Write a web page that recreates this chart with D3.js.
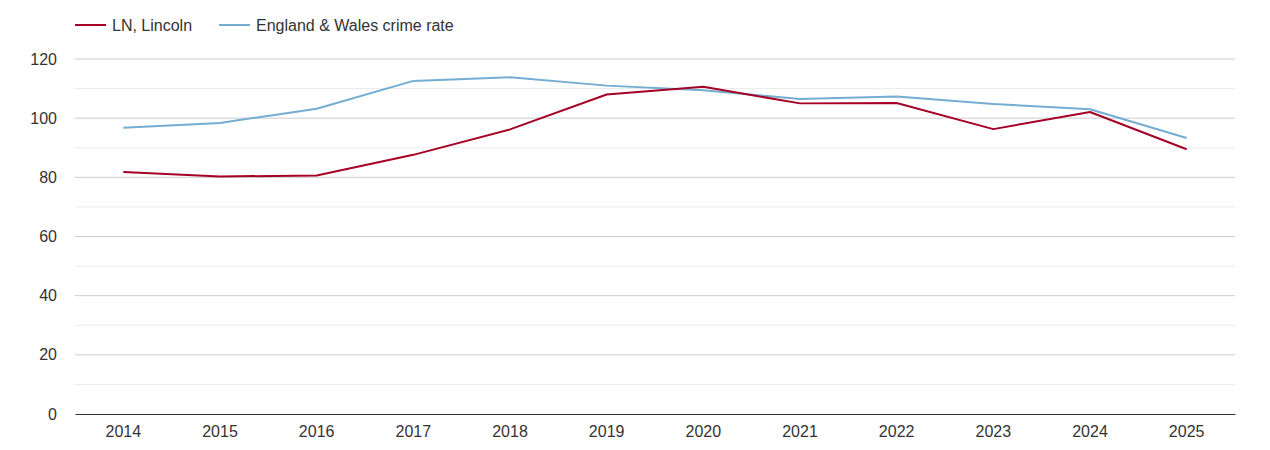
<!DOCTYPE html>
<html><head><meta charset="utf-8">
<script src="https://cdn.jsdelivr.net/npm/d3@7"></script>
<style>body{margin:0;background:#fff;}svg{display:block;font-family:"Liberation Sans",Arial,sans-serif;}</style>
</head><body><svg id="c" width="1270" height="450"></svg>
<script>
const years = ["2014","2015","2016","2017","2018","2019","2020","2021","2022","2023","2024","2025"];
const lincoln = [81.8,80.3,80.6,87.6,96.2,108.0,110.6,105.0,105.1,96.3,102.1,89.5];
const englandWales = [96.8,98.4,103.2,112.6,113.8,111.0,109.4,106.5,107.3,104.8,103.0,93.3];
const yTicks = [0,20,40,60,80,100,120];
const yMinor = [10,30,50,70,90,110];
const seriesNames = ["LN, Lincoln","England & Wales crime rate"];
const colors = ["#a50026","#74add1"];

const FONT = "'Liberation Sans',Arial,sans-serif";
const svg = d3.select("#c");
const m = {l:75, r:35, t:59, b:36};
const W = 1270, H = 450;
const x = d3.scaleBand().domain(years).range([m.l, W-m.r]);
const y = d3.scaleLinear().domain([0,120]).range([H-m.b, m.t]);

svg.append("g").selectAll("line").data(yMinor).join("line")
  .attr("x1",m.l).attr("x2",W-m.r).attr("y1",d=>y(d)).attr("y2",d=>y(d))
  .attr("stroke","#ebebeb").attr("stroke-width",1);
svg.append("g").selectAll("line").data(yTicks.filter(d=>d>0)).join("line")
  .attr("x1",m.l).attr("x2",W-m.r).attr("y1",d=>y(d)).attr("y2",d=>y(d))
  .attr("stroke","#cccccc").attr("stroke-width",1);

const ya = svg.append("g").attr("transform",`translate(${m.l},0)`)
  .call(d3.axisLeft(y).tickValues(yTicks).tickSize(0).tickPadding(18));
ya.select(".domain").remove();
ya.selectAll("text").attr("font-size",16).attr("fill","#333").attr("font-family",FONT);

const xa = svg.append("g").attr("transform",`translate(0,${y(0)})`)
  .call(d3.axisBottom(x).tickSize(0).tickPadding(12));
xa.select(".domain").attr("stroke","#333");
xa.selectAll("text").attr("font-size",16).attr("fill","#333").attr("font-family",FONT);

const line = d3.line().x((d,i)=>x(years[i])+x.bandwidth()/2).y(d=>y(d));
[englandWales, lincoln].forEach((s,k)=>{
  const ci = k===0?1:0;
  svg.append("path").datum(s).attr("d",line).attr("fill","none")
    .attr("stroke",colors[ci]).attr("stroke-width",2).attr("stroke-linejoin","round");
});

const leg = svg.append("g");
const legX = [75, 219];
seriesNames.forEach((n,i)=>{
  leg.append("line").attr("x1",legX[i]).attr("x2",legX[i]+31).attr("y1",25).attr("y2",25)
    .attr("stroke",colors[i]).attr("stroke-width",2);
  leg.append("text").attr("x",legX[i]+37).attr("y",30.5).text(n)
    .attr("font-size",16).attr("fill","#333").attr("font-family",FONT);
});
</script></body></html>
